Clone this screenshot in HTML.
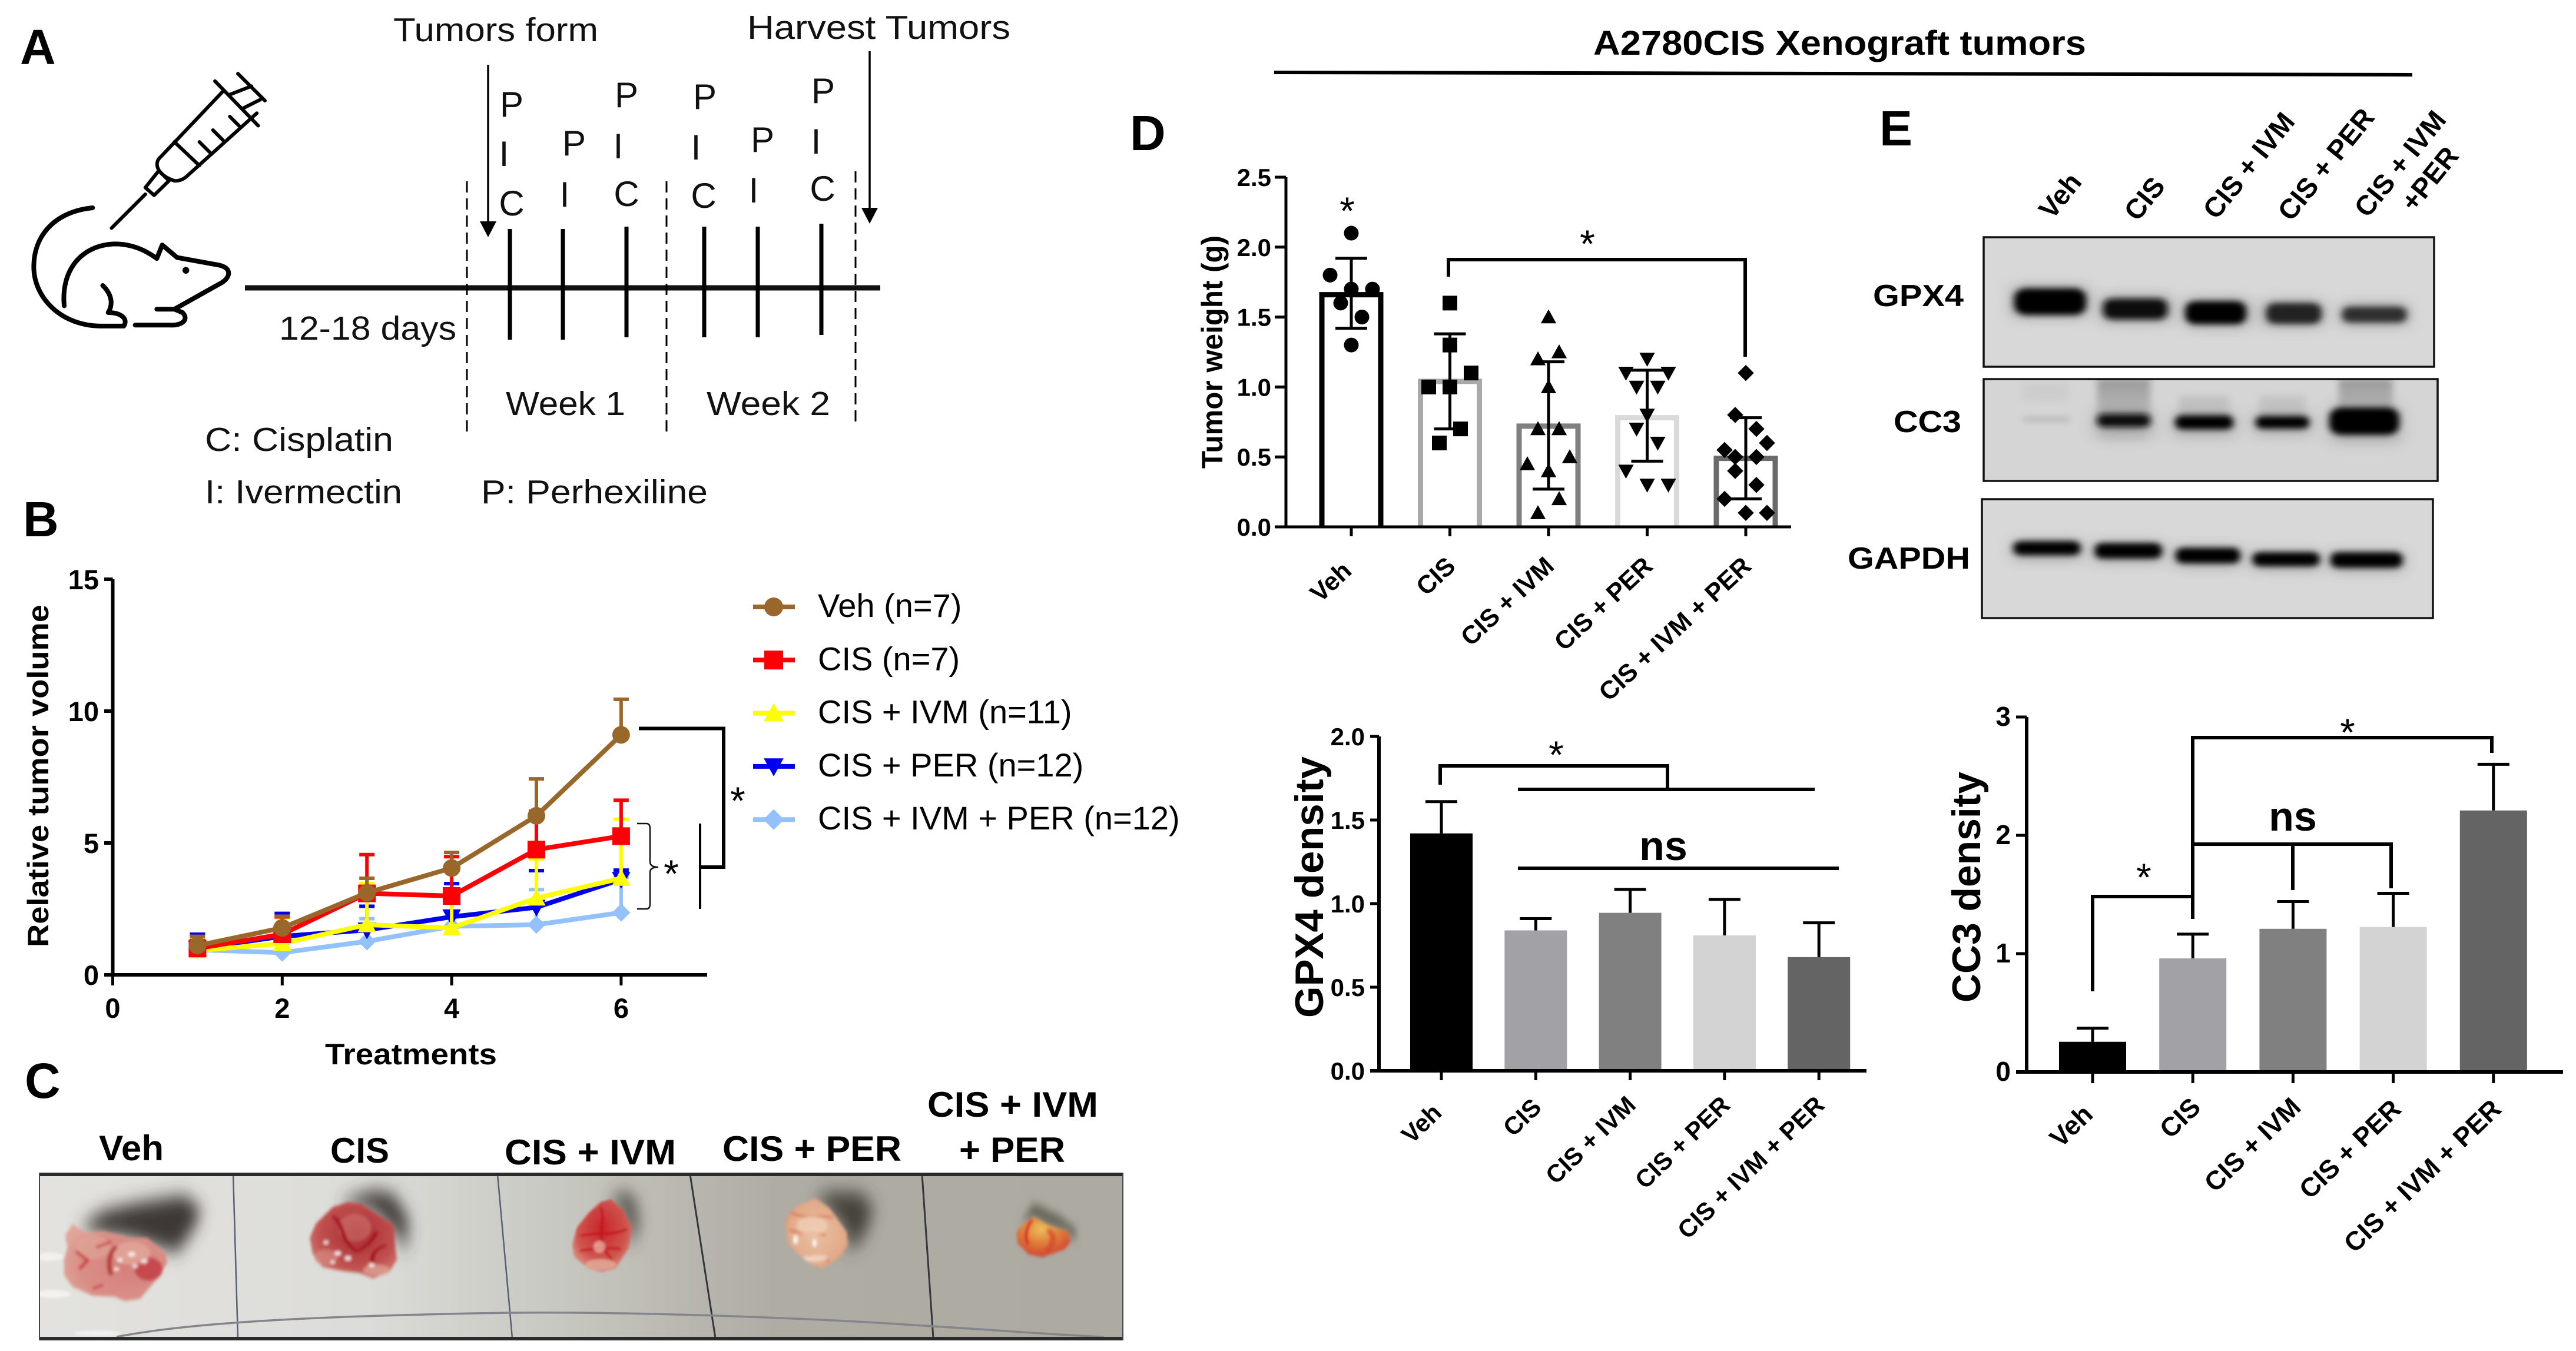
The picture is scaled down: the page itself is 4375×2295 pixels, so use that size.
<!DOCTYPE html>
<html lang="en">
<head>
<meta charset="utf-8">
<title>A2780CIS Xenograft tumors figure</title>
<style>
html,body{margin:0;padding:0;background:#fff;}
svg{display:block;}
text{font-family:"Liberation Sans",sans-serif;fill:#000;}
.b{font-weight:bold;}
.nss{vector-effect:non-scaling-stroke;fill:none;stroke:#000;stroke-width:8;stroke-linecap:round;stroke-linejoin:round;}
.a57{font-size:57px;fill:#111;}
.pic{font-size:60px;fill:#111;text-anchor:middle;}
.panel{font-size:84px;font-weight:bold;}
.hd{font-size:58px;font-weight:bold;}
</style>
</head>
<body>
<svg id="fig" xmlns="http://www.w3.org/2000/svg" width="4375" height="2295" viewBox="0 0 4375 2295">
<defs>
<filter id="b2" x="-30%" y="-30%" width="160%" height="160%"><feGaussianBlur stdDeviation="2"/></filter>
<filter id="b3" x="-30%" y="-30%" width="160%" height="160%"><feGaussianBlur stdDeviation="4 9"/></filter>
<filter id="b8" x="-80%" y="-80%" width="260%" height="260%"><feGaussianBlur stdDeviation="10 24"/></filter>
<filter id="b24" x="-80%" y="-80%" width="260%" height="260%"><feGaussianBlur stdDeviation="22 46"/></filter>
<filter id="blot" x="-30%" y="-100%" width="160%" height="300%"><feGaussianBlur stdDeviation="8"/></filter>
<filter id="halo" x="-40%" y="-200%" width="180%" height="500%"><feGaussianBlur stdDeviation="18"/></filter>
<linearGradient id="paper" x1="0" y1="0" x2="1" y2="0">
<stop offset="0" stop-color="#e3e2de"/><stop offset="0.3" stop-color="#dcdcd8"/><stop offset="0.47" stop-color="#c9c9c3"/><stop offset="0.68" stop-color="#aeaca3"/><stop offset="1" stop-color="#adaaa1"/>
</linearGradient>
<linearGradient id="smear" x1="0" y1="0" x2="0" y2="1"><stop offset="0" stop-color="#9a9a9a"/><stop offset="1" stop-color="#bdbdbd"/></linearGradient>
<radialGradient id="t1" cx="0.6" cy="0.55" r="0.65"><stop offset="0" stop-color="#d67f7c"/><stop offset="0.7" stop-color="#d98f86"/><stop offset="1" stop-color="#e0a598"/></radialGradient>
<radialGradient id="t2" cx="0.55" cy="0.42" r="0.62"><stop offset="0" stop-color="#a92a33"/><stop offset="0.7" stop-color="#c0504f"/><stop offset="1" stop-color="#cf7a72"/></radialGradient>
<radialGradient id="t3" cx="0.5" cy="0.4" r="0.62"><stop offset="0" stop-color="#c8242a"/><stop offset="0.7" stop-color="#cf5750"/><stop offset="1" stop-color="#dc9080"/></radialGradient>
<radialGradient id="t4" cx="0.5" cy="0.5" r="0.6"><stop offset="0" stop-color="#e8c0a2"/><stop offset="0.75" stop-color="#e2aa88"/><stop offset="1" stop-color="#d88a68"/></radialGradient>
<radialGradient id="t5" cx="0.45" cy="0.3" r="0.75"><stop offset="0" stop-color="#eebf5c"/><stop offset="0.45" stop-color="#e0803a"/><stop offset="1" stop-color="#cc3a30"/></radialGradient>
<clipPath id="cc3clip"><rect x="3369" y="644" width="771" height="173"/></clipPath>
<clipPath id="photoclip"><rect x="67" y="1995" width="1841" height="279"/></clipPath>
</defs>
<rect width="4375" height="2295" fill="#fff"/>

<!-- Panel A -->
<g>
<text class="panel" x="34" y="109">A</text>
<g transform="scale(1.148,0.574)">
<path class="nss" d="M137,615 C85,625 50,690 50,790 C50,880 90,965 150,965 L183,965 C190,945 180,925 160,925 C168,900 165,870 152,845"/>
<path class="nss" d="M95,905 C90,800 120,725 170,722 C195,722 215,740 232,765 L240,725 L262,762 L325,785 C345,795 340,825 325,840 L258,915 L270,925 C280,945 270,965 250,962 L200,962"/>
<path class="nss" d="M232,915 L258,915"/>
<ellipse cx="275" cy="800" rx="5" ry="10" fill="#000"/>
</g>
<g transform="scale(1.148,0.574)">
<path class="nss" style="stroke-width:6" d="M165,675 L215,575 M215,555 L228,578 L250,535 L235,505 Z M235,470 L330,270 M280,515 L380,335 M235,470 C228,490 235,520 258,535 C268,537 275,525 280,515 M258,420 L295,490 M318,240 L382,372 M352,218 L392,298 M340,280 L372,255 M360,320 L385,295 M295,420 L310,450 M315,385 L330,415 M340,345 L355,375"/>
</g>
<text class="a57" x="668" y="70" textLength="348" lengthAdjust="spacingAndGlyphs">Tumors form</text>
<text class="a57" x="1269" y="66" textLength="447" lengthAdjust="spacingAndGlyphs">Harvest  Tumors</text>
<path d="M829,110 V380" stroke="#000" stroke-width="3.5" fill="none"/>
<path d="M815,376 H843 L829,403 Z" fill="#000"/>
<path d="M1477,87 V356" stroke="#000" stroke-width="3.5" fill="none"/>
<path d="M1463,353 H1491 L1477,380 Z" fill="#000"/>
<g>
<text class="pic" x="869" y="198">P</text><text class="pic" x="856" y="282">I</text><text class="pic" x="869" y="366">C</text>
<text class="pic" x="975" y="264">P</text><text class="pic" x="959" y="351">I</text>
<text class="pic" x="1064" y="182">P</text><text class="pic" x="1050" y="269">I</text><text class="pic" x="1064" y="350">C</text>
<text class="pic" x="1197" y="185">P</text><text class="pic" x="1182" y="271">I</text><text class="pic" x="1195" y="353">C</text>
<text class="pic" x="1295" y="258">P</text><text class="pic" x="1280" y="344">I</text>
<text class="pic" x="1398" y="175">P</text><text class="pic" x="1386" y="261">I</text><text class="pic" x="1397" y="341">C</text>
</g>
<path d="M416,489 H1495" stroke="#111" stroke-width="9" fill="none"/>
<path d="M866,389 V577 M956,389 V577 M1064,385 V573 M1196,385 V573 M1287,385 V573 M1395,380 V569" stroke="#000" stroke-width="7" fill="none"/>
<path d="M793,308 V740 M1132,308 V740 M1453,291 V722" stroke="#000" stroke-width="3" stroke-dasharray="19 10" fill="none"/>
<text class="a57" x="474" y="577" textLength="301" lengthAdjust="spacingAndGlyphs">12-18 days</text>
<text class="a57" x="859" y="705" textLength="203" lengthAdjust="spacingAndGlyphs">Week 1</text>
<text class="a57" x="1200" y="705" textLength="210" lengthAdjust="spacingAndGlyphs">Week 2</text>
<text class="a57" x="348" y="766" textLength="320" lengthAdjust="spacingAndGlyphs">C: Cisplatin</text>
<text class="a57" x="348" y="855" textLength="335" lengthAdjust="spacingAndGlyphs">I: Ivermectin</text>
<text class="a57" x="817" y="855" textLength="385" lengthAdjust="spacingAndGlyphs">P: Perhexiline</text>
</g>

<text class="panel" x="39" y="911">B</text>
<g id="panelB"></g>

<!-- Panel C -->
<g>
<text class="panel" x="42" y="1865">C</text>
<text class="b" font-size="60" x="168" y="1971" textLength="110" lengthAdjust="spacingAndGlyphs">Veh</text>
<text class="b" font-size="60" x="561" y="1975" textLength="100" lengthAdjust="spacingAndGlyphs">CIS</text>
<text class="b" font-size="60" x="857" y="1978" textLength="291" lengthAdjust="spacingAndGlyphs">CIS + IVM</text>
<text class="b" font-size="60" x="1227" y="1972" textLength="304" lengthAdjust="spacingAndGlyphs">CIS + PER</text>
<text class="b" font-size="60" x="1575" y="1897" textLength="290" lengthAdjust="spacingAndGlyphs">CIS + IVM</text>
<text class="b" font-size="60" x="1629" y="1974" textLength="180" lengthAdjust="spacingAndGlyphs">+ PER</text>
<rect x="67" y="1992" width="1841" height="285" fill="url(#paper)"/>
<g clip-path="url(#photoclip)">
<g filter="url(#b2)" fill="#f6f5f2" opacity="0.8">
<ellipse cx="85" cy="2135" rx="24" ry="7"/>
<ellipse cx="90" cy="2198" rx="30" ry="7"/>
<ellipse cx="165" cy="2265" rx="40" ry="5"/>
</g>
<path d="M396,1995 L404,2273 M845,1995 L870,2273" stroke="#566074" stroke-width="2.5" fill="none"/>
<path d="M1172,1995 L1215,2273 M1566,1995 L1585,2273" stroke="#33363c" stroke-width="3" fill="none"/>
<path d="M198,2271 C330,2245 560,2235 864,2230 C1100,2228 1400,2240 1583,2253 C1700,2260 1800,2268 1875,2271" stroke="#84858c" stroke-width="3.5" fill="none"/>

<g transform="translate(60,1985) scale(0.574,0.335)">
<g filter="url(#b24)" fill="#3c3835">
<path d="M130,300 L200,215 L300,175 L440,135 L490,200 L475,290 L420,430 L370,400 L280,350 L200,330 Z"/>
<path d="M900,170 L1000,110 L1060,130 L1105,260 L1095,430 L1065,320 L1000,210 L930,190 Z"/>
</g>
<g filter="url(#b3)">
<path d="M110,282 L150,325 L200,318 L285,350 L330,352 L385,425 L390,480 L355,570 L310,660 L265,672 L235,650 L170,645 L110,600 L85,540 L85,460 L95,400 L88,340 Z" fill="url(#t1)"/>
<ellipse cx="335" cy="510" rx="42" ry="60" fill="#c23a44" opacity="0.8"/>
<ellipse cx="285" cy="430" rx="55" ry="58" fill="#e4aca0" opacity="0.7"/>
<ellipse cx="170" cy="400" rx="50" ry="60" fill="#e0a899" opacity="0.6"/>
<path d="M240,395 C215,430 215,500 225,540" stroke="#b5403e" stroke-width="14" fill="none"/>
<path d="M120,420 L155,465 L130,510 M200,590 L170,610 M180,400 L225,370" stroke="#c9222f" stroke-width="10" fill="none"/>
<g fill="#fff" opacity="0.85"><circle cx="285" cy="435" r="11"/><circle cx="322" cy="470" r="10"/><circle cx="250" cy="465" r="9"/><circle cx="240" cy="510" r="8"/><circle cx="295" cy="495" r="8"/></g>
</g>
<g filter="url(#b3)">
<path d="M925,170 L965,180 L1015,235 L1060,285 L1065,400 L1070,460 L1050,520 L1000,558 L960,530 L910,520 L850,500 L820,430 L812,350 L830,280 L880,195 Z" fill="url(#t2)"/>
<ellipse cx="945" cy="300" rx="48" ry="70" fill="#d68b80" opacity="0.45"/>
<path d="M880,240 C920,300 900,360 950,420 C980,400 1000,360 1010,320 M1000,480 C990,440 1010,400 1040,390" stroke="#a50c1c" stroke-width="12" fill="none"/>
<ellipse cx="1010" cy="515" rx="40" ry="28" fill="#dca090" opacity="0.8"/>
<ellipse cx="860" cy="450" rx="35" ry="40" fill="#d68a80" opacity="0.7"/>
<g fill="#fff" opacity="0.9"><circle cx="895" cy="430" r="10"/><circle cx="925" cy="455" r="10"/><circle cx="860" cy="375" r="8"/><circle cx="995" cy="490" r="9"/><circle cx="880" cy="475" r="7"/></g>
</g>
</g>

<g transform="translate(1000,1985) scale(0.5835,0.335)">
<g filter="url(#b24)" fill="#45413b">
<path d="M60,165 L95,120 L130,140 L145,280 L120,400 L100,200 Z"/>
<path d="M660,170 L690,120 L790,120 L830,200 L800,350 L755,420 L750,320 L700,200 Z"/>
</g>
<g filter="url(#b8)" fill="#686359">
<path d="M1295,175 L1370,240 L1420,310 L1410,375 L1395,320 L1340,290 L1295,245 L1258,275 Z"/>
</g>
<g filter="url(#b3)">
<path d="M660,150 L700,200 L750,320 L755,390 L730,450 L680,508 L640,480 L600,420 L578,370 L572,260 L600,195 Z" fill="url(#t4)"/>
<path d="M590,225 C630,260 680,230 710,250 M585,310 C620,340 660,320 690,340 M640,440 L700,470" stroke="#d9634e" stroke-width="9" fill="none"/>
<ellipse cx="650" cy="290" rx="45" ry="50" fill="#f0d2b8" opacity="0.7"/>
<ellipse cx="660" cy="455" rx="36" ry="16" fill="#f3dacc" opacity="0.85"/>
<g fill="#fff" opacity="0.9"><rect x="596" y="340" width="12" height="40"/><rect x="652" y="360" width="10" height="35"/></g>
</g>
<g filter="url(#b3)">
<path d="M1295,245 L1340,290 L1395,320 L1403,370 L1385,410 L1320,450 L1280,435 L1248,380 L1245,320 L1265,280 Z" fill="url(#t5)"/>
<path d="M1290,260 C1275,300 1265,345 1280,385" stroke="#d42a2a" stroke-width="10" fill="none"/>
<path d="M1335,310 C1365,345 1345,400 1330,420" stroke="#d4452c" stroke-width="18" fill="none" opacity="0.7"/>
</g>
</g>

<g filter="url(#b2)">
<path d="M1038,2037 L1060,2058 L1073,2085 L1068,2120 L1045,2155 L1023,2161 L1000,2155 L975,2135 L972,2115 L980,2085 L1000,2060 L1020,2042 Z" fill="url(#t3)"/>
<path d="M1020,2050 C1032,2080 1005,2105 1040,2140 M985,2100 C1010,2092 1040,2100 1065,2088 M985,2125 C1005,2122 1030,2118 1055,2122" stroke="#c40f1c" stroke-width="4" fill="none"/>
<ellipse cx="1020" cy="2148" rx="26" ry="9" fill="#e0a896" opacity="0.85"/>
<ellipse cx="1018" cy="2118" rx="10" ry="10" fill="#ecc0b0" opacity="0.7"/>
</g>
</g>
<path d="M67,1995 H1908 M67,2274 H1908" stroke="#2b2b2b" stroke-width="6" fill="none"/>
<path d="M67,1992 V2277 M1907,1992 V2277" stroke="#444" stroke-width="2" fill="none"/>
</g>

<!-- Header -->
<text class="hd" x="2706" y="93" textLength="837" lengthAdjust="spacingAndGlyphs">A2780CIS Xenograft tumors</text>
<path d="M2164,123 L4097,127" stroke="#000" stroke-width="6" fill="none"/>

<text class="panel" x="1919" y="255">D</text>
<g id="panelD"></g>

<!-- Panel E blots -->
<g>
<text class="panel" x="3192" y="247">E</text>
<text class="b" font-size="47" transform="translate(3485,375) rotate(-51)">Veh</text>
<text class="b" font-size="47" transform="translate(3630,378) rotate(-51)">CIS</text>
<text class="b" font-size="47" transform="translate(3764,375) rotate(-51)">CIS + IVM</text>
<text class="b" font-size="47" transform="translate(3891,378) rotate(-51)">CIS + PER</text>
<text class="b" font-size="47" transform="translate(4021,372) rotate(-51)">CIS + IVM</text>
<text class="b" font-size="47" transform="translate(4100,362) rotate(-51)">+PER</text>
<text class="b" font-size="52" x="3181" y="520" textLength="154" lengthAdjust="spacingAndGlyphs">GPX4</text>
<text class="b" font-size="52" x="3216" y="734" textLength="115" lengthAdjust="spacingAndGlyphs">CC3</text>
<text class="b" font-size="52" x="3138" y="966" textLength="208" lengthAdjust="spacingAndGlyphs">GAPDH</text>
<rect x="3369" y="403" width="765" height="220" fill="#d8d8d8"/>
<rect x="3369" y="644" width="771" height="173" fill="#d5d5d5"/>
<rect x="3366" y="848" width="766" height="202" fill="#d8d8d8"/>
<g>
<g transform="translate(3150,100) scale(0.781,0.625)">
<g filter="url(#halo)" fill="#666" opacity="0.55">
<rect x="345" y="620" width="160" height="80"/><rect x="540" y="645" width="145" height="70"/><rect x="720" y="655" width="135" height="72"/><rect x="890" y="660" width="125" height="65"/><rect x="1060" y="668" width="140" height="55"/>
</g>
<g filter="url(#blot)">
<rect x="347" y="624" width="156" height="72" rx="26" fill="#000"/>
<rect x="540" y="652" width="140" height="56" rx="20" fill="#111"/>
<rect x="719" y="659" width="132" height="62" rx="22" fill="#000"/>
<rect x="895" y="664" width="120" height="56" rx="20" fill="#222"/>
<rect x="1060" y="674" width="140" height="42" rx="16" fill="#2e2e2e"/>
</g>
<g filter="url(#halo)" fill="#666" opacity="0.45">
<rect x="345" y="1310" width="148" height="50"/><rect x="522" y="1316" width="146" height="52"/><rect x="698" y="1328" width="140" height="52"/><rect x="865" y="1340" width="146" height="48"/><rect x="1035" y="1340" width="156" height="52"/>
</g>
<g filter="url(#blot)" fill="#000">
<rect x="345" y="1311" width="146" height="38" rx="16"/>
<rect x="522" y="1316" width="146" height="42" rx="16"/>
<rect x="698" y="1329" width="140" height="42" rx="16"/>
<rect x="865" y="1341" width="146" height="38" rx="16"/>
<rect x="1035" y="1341" width="156" height="42" rx="16"/>
</g>
</g>
</g>
<g clip-path="url(#cc3clip)">
<g transform="translate(3150,100) scale(0.781,0.625)">
<g filter="url(#blot)">
<rect x="527" y="870" width="116" height="100" fill="url(#smear)"/>
<rect x="1052" y="870" width="118" height="100" fill="url(#smear)"/>
<rect x="705" y="915" width="110" height="60" fill="#c2c2c2"/>
<rect x="880" y="915" width="100" height="60" fill="#c4c4c4"/>
<rect x="365" y="880" width="100" height="50" fill="#cdcdcd"/>
</g>
<g filter="url(#halo)" fill="#666" opacity="0.4">
<rect x="525" y="955" width="120" height="75"/><rect x="695" y="965" width="130" height="60"/><rect x="870" y="965" width="122" height="55"/><rect x="1035" y="945" width="150" height="95"/>
</g>
<g filter="url(#blot)">
<rect x="365" y="972" width="104" height="16" rx="8" fill="#bbb"/>
<rect x="527" y="965" width="116" height="36" rx="14" fill="#0d0d0d"/>
<rect x="697" y="969" width="126" height="38" rx="15" fill="#000"/>
<rect x="872" y="971" width="116" height="34" rx="14" fill="#000"/>
<rect x="1032" y="948" width="152" height="74" rx="26" fill="#000"/>
</g>
</g>
</g>
<rect x="3369" y="403" width="765" height="220" fill="none" stroke="#111" stroke-width="3.5"/>
<rect x="3369" y="644" width="771" height="173" fill="none" stroke="#111" stroke-width="3.5"/>
<rect x="3366" y="848" width="766" height="202" fill="none" stroke="#111" stroke-width="3.5"/>
</g>

<g id="panelGpx"></g>
<g id="panelCc3"></g>
</svg>

<script>
/* ---- Panel B data ---- */
var treatmentX = [1, 2, 3, 4, 5, 6];
var volumeXTicks = [0, 2, 4, 6];
var volumeYTicks = [0, 5, 10, 15];
var vehVolume = [1.11, 1.78, 3.11, 4.05, 6.03, 9.1];
var vehVolumeTop = [1.46, 2.22, 3.66, 4.64, 7.43, 10.45];
var cisVolume = [1.0, 1.54, 3.09, 2.99, 4.75, 5.26];
var cisVolumeTop = [1.3, 2.2, 4.56, 4.48, 6.2, 6.62];
var ivmVolume = [0.92, 1.19, 1.9, 1.78, 2.91, 3.66];
var ivmVolumeTop = [1.35, 2.17, 3.46, 3.0, 4.4, 5.9];
var perVolume = [1.0, 1.46, 1.7, 2.2, 2.56, 3.62];
var perVolumeTop = [1.54, 2.33, 2.6, 3.46, 3.95, 3.97];
var comboVolume = [0.95, 0.84, 1.27, 1.84, 1.9, 2.36];
var comboVolumeTop = [1.2, 1.2, 2.13, 2.4, 3.23, 3.7];
var legendLabels = ['Veh (n=7)', 'CIS (n=7)', 'CIS + IVM (n=11)', 'CIS + PER (n=12)', 'CIS + IVM + PER (n=12)'];

/* ---- Shared bar categories ---- */
var groupLabels = ['Veh', 'CIS', 'CIS + IVM', 'CIS + PER', 'CIS + IVM + PER'];

/* ---- Panel D data ---- */
var weightYTicks = [0, 0.5, 1, 1.5, 2, 2.5];
var weightMeans = [1.66, 1.04, 0.72, 0.78, 0.49];
var weightErrHigh = [1.92, 1.38, 1.18, 1.12, 0.78];
var weightErrLow = [1.42, 0.70, 0.27, 0.47, 0.20];
var weightVeh = [2.1, 1.8, 1.7, 1.7, 1.6, 1.5, 1.3];
var weightCis = [1.6, 1.3, 1.1, 1.0, 1.0, 0.7, 0.6];
var weightIvm = [1.5, 1.25, 1.2, 1.0, 0.7, 0.7, 0.5, 0.45, 0.4, 0.2, 0.1];
var weightPer = [1.2, 1.1, 1.1, 1.0, 1.0, 0.8, 0.7, 0.6, 0.4, 0.3, 0.3];
var weightCombo = [1.1, 0.8, 0.7, 0.6, 0.55, 0.5, 0.5, 0.4, 0.3, 0.2, 0.1, 0.1];
var swarmVeh = [0, -2, 0, 2, -1, 1, 0];
var swarmCis = [0, 0, 2, -2, 0, 1, -1];
var swarmIvm = [0, 1, -1, 0, -1, 1, 2, -2, 0, 1, -1];
var swarmPer = [0, -2, 2, -1, 1, 0, -1, 1, -2, 0, 2];
var swarmCombo = [0, -1, 1, 2, -2, -1, 1, -1, 1, -2, 0, 2];

/* ---- GPX4 density data ---- */
var gpxYTicks = [0, 0.5, 1, 1.5, 2];
var gpxMeans = [1.42, 0.84, 0.945, 0.81, 0.68];
var gpxErrHigh = [1.61, 0.91, 1.085, 1.025, 0.885];

/* ---- CC3 density data ---- */
var cc3YTicks = [0, 1, 2, 3];
var cc3Means = [0.255, 0.96, 1.21, 1.225, 2.21];
var cc3ErrHigh = [0.37, 1.165, 1.44, 1.51, 2.6];

var NS = 'http://www.w3.org/2000/svg';
function mk(tag, parent, attrs) {
  var el = document.createElementNS(NS, tag);
  for (var k in attrs) { el.setAttribute(k, attrs[k]); }
  parent.appendChild(el);
  return el;
}
function markerPath(kind, cx, cy, s) {
  if (kind === 'square') return 'M' + (cx - s) + ',' + (cy - s) + 'h' + (2 * s) + 'v' + (2 * s) + 'h' + (-2 * s) + 'Z';
  if (kind === 'up') return 'M' + cx + ',' + (cy - s * 1.05) + 'L' + (cx + s * 1.05) + ',' + (cy + s * 0.85) + 'H' + (cx - s * 1.05) + 'Z';
  if (kind === 'down') return 'M' + cx + ',' + (cy + s * 1.05) + 'L' + (cx + s * 1.05) + ',' + (cy - s * 0.85) + 'H' + (cx - s * 1.05) + 'Z';
  if (kind === 'diamond') return 'M' + cx + ',' + (cy - s * 1.1) + 'L' + (cx + s * 1.1) + ',' + cy + 'L' + cx + ',' + (cy + s * 1.1) + 'L' + (cx - s * 1.1) + ',' + cy + 'Z';
  var r = s;
  return 'M' + (cx - r) + ',' + cy + 'a' + r + ',' + r + ' 0 1,0 ' + (2 * r) + ',0a' + r + ',' + r + ' 0 1,0 ' + (-2 * r) + ',0Z';
}
function star(parent, cx, cy) {
  var el = mk('text', parent, { x: cx, y: cy + 33, 'font-size': 66, 'text-anchor': 'middle' });
  
  
  el.textContent = '*';
  return el;
}
function bracket(parent, d) {
  var el = mk('path', parent, { d: d, fill: 'none', stroke: '#000', 'stroke-width': 6 });
  
  
  return el;
}
function nsLabel(parent, cx, y) {
  var el = mk('text', parent, { x: cx, y: y, 'font-size': 70, 'font-weight': 'bold', 'text-anchor': 'middle' });
  
  
  el.textContent = 'ns';
  return el;
}

/* ---- Panel B ---- */
(function () {
  var g = document.getElementById('panelB');
  function px(v) { return 191.5 + (v * 143.9); }
  function py(v) { return 1656 - (v * 44.8); }
  var axis = mk('path', g, { d: 'M' + px(0) + ',' + py(15) + 'V' + py(0) + ' M177,' + py(0) + 'H1201', fill: 'none', stroke: '#000', 'stroke-width': 6 });
  
  
  volumeYTicks.forEach(function (t) {
    var tick = mk('path', g, { d: 'M177,' + py(t) + 'H' + px(0), stroke: '#000', 'stroke-width': 6 });
    
    
    var lab = mk('text', g, { x: 168, y: py(t) + 17, 'font-size': 47, 'font-weight': 'bold', 'text-anchor': 'end' });
    
    
    lab.textContent = t;
  });
  volumeXTicks.forEach(function (t) {
    var tick = mk('path', g, { d: 'M' + px(t) + ',' + py(0) + 'V1674', stroke: '#000', 'stroke-width': 5 });
    
    
    var lab = mk('text', g, { x: px(t), y: 1729, 'font-size': 47, 'font-weight': 'bold', 'text-anchor': 'middle' });
    
    
    lab.textContent = t;
  });
  var yt = mk('text', g, { transform: 'translate(82,1609) rotate(-90)', 'font-size': 50, 'font-weight': 'bold', textLength: 582, lengthAdjust: 'spacingAndGlyphs' });
  
  
  yt.textContent = 'Relative tumor volume';
  var xt = mk('text', g, { x: 552, y: 1808, 'font-size': 50, 'font-weight': 'bold', textLength: 292, lengthAdjust: 'spacingAndGlyphs' });
  
  
  xt.textContent = 'Treatments';

  var series = [
    { n: comboVolume, t: comboVolumeTop, c: '#92c1fb', m: 'diamond', s: 14 },
    { n: perVolume, t: perVolumeTop, c: '#0000f0', m: 'down', s: 15 },
    { n: ivmVolume, t: ivmVolumeTop, c: '#fdfc00', m: 'up', s: 15 },
    { n: cisVolume, t: cisVolumeTop, c: '#fb0007', m: 'square', s: 15 },
    { n: vehVolume, t: vehVolumeTop, c: '#99672a', m: 'circle', s: 15 }
  ];
  series.forEach(function (sr) {
    var sg = mk('g', g, {});
    
    
    treatmentX.forEach(function (xv, i) {
      var x = px(xv);
      var err = mk('path', sg, { d: 'M' + x + ',' + py(sr.n[i]) + 'V' + py(sr.t[i]) + 'M' + (x - 13) + ',' + py(sr.t[i]) + 'h26', fill: 'none', stroke: sr.c, 'stroke-width': 6 });
      
      
    });
    var d = treatmentX.map(function (xv, i) { return (i ? 'L' : 'M') + px(xv) + ',' + py(sr.n[i]); }).join('');
    var line = mk('path', sg, { d: d, fill: 'none', stroke: sr.c, 'stroke-width': 8, 'stroke-linejoin': 'round' });
    
    
    treatmentX.forEach(function (xv, i) {
      var m = mk('path', sg, { d: markerPath(sr.m, px(xv), py(sr.n[i]), sr.s), fill: sr.c });
      
      
    });
  });

  var legendOrder = [4, 3, 2, 1, 0];
  legendLabels.forEach(function (label, i) {
    var sr = series[legendOrder[i]];
    var ly = 1031 + i * 90.3;
    var lg = mk('g', g, {});
    
    
    mk('path', lg, { d: 'M1279,' + ly + 'H1350', stroke: sr.c, 'stroke-width': 8, fill: 'none' });
    mk('path', lg, { d: markerPath(sr.m, 1314, ly, 16), fill: sr.c });
    var t = mk('text', lg, { x: 1389, y: ly + 17, 'font-size': 56, fill: '#111' });
    t.textContent = label;
  });

  bracket(g, 'M1085,1237.5H1229V1473H1189');
  bracket(g, 'M1189,1399V1544').setAttribute('stroke-width', 4);
  var curly = mk('path', g, { d: 'M1082,1399H1098Q1104,1399 1104,1408V1464Q1104,1473 1118,1473Q1104,1473 1104,1482V1535Q1104,1544 1098,1544H1082', fill: 'none', stroke: '#111', 'stroke-width': 2.5 });
  
  
  star(g, 1140, 1474);
  star(g, 1253, 1350);
})();

/* ---- Panel D ---- */
(function () {
  var g = document.getElementById('panelD');
  var colors = ['#000000', '#a9a9a9', '#808080', '#d9d9d9', '#6a6a6a'];
  var shapes = ['circle', 'square', 'up', 'down', 'diamond'];
  var pointSets = [weightVeh, weightCis, weightIvm, weightPer, weightCombo];
  var slotSets = [swarmVeh, swarmCis, swarmIvm, swarmPer, swarmCombo];
  function cx(i) { return 2295 + i * 167.5; }
  function py(v) { return 895 - v * 237.6; }
  groupLabels.forEach(function (label, i) {
    var x = cx(i), hw = 50;
    var bar = mk('path', g, { d: 'M' + (x - hw) + ',' + py(0) + 'V' + py(weightMeans[i]) + 'H' + (x + hw) + 'V' + py(0), fill: 'none', stroke: colors[i], 'stroke-width': 9 });
    
    
    var err = mk('path', g, { d: 'M' + x + ',' + py(weightErrHigh[i]) + 'V' + py(weightErrLow[i]) + 'M' + (x - 27) + ',' + py(weightErrHigh[i]) + 'h54M' + (x - 27) + ',' + py(weightErrLow[i]) + 'h54', fill: 'none', stroke: '#000', 'stroke-width': 5 });
    
    
    pointSets[i].forEach(function (v, j) {
      var p = mk('path', g, { d: markerPath(shapes[i], x + slotSets[i][j] * 18, py(v), 12.5), fill: '#000' });
      
      
    });
    var tick = mk('path', g, { d: 'M' + x + ',' + py(0) + 'V911', stroke: '#000', 'stroke-width': 5 });
    
    
    var lab = mk('text', g, { transform: 'translate(' + (x + (i ? 12 : 3)) + ',' + (i ? 965 : 973) + ') rotate(-43)', 'font-size': 43, 'font-weight': 'bold', 'text-anchor': 'end' });
    
    
    lab.textContent = label;
  });
  var axis = mk('path', g, { d: 'M2184,' + py(2.5) + 'V' + py(0) + 'M2165,' + py(0) + 'H3042', fill: 'none', stroke: '#000', 'stroke-width': 5 });
  
  
  weightYTicks.forEach(function (t) {
    var tick = mk('path', g, { d: 'M2165,' + py(t) + 'H2184', stroke: '#000', 'stroke-width': 5 });
    
    
    var lab = mk('text', g, { x: 2159, y: py(t) + 15, 'font-size': 42, 'font-weight': 'bold', 'text-anchor': 'end' });
    
    
    lab.textContent = t.toFixed(1);
  });
  var yt = mk('text', g, { transform: 'translate(2076,796) rotate(-90)', 'font-size': 50, 'font-weight': 'bold', textLength: 396, lengthAdjust: 'spacingAndGlyphs' });
  
  
  yt.textContent = 'Tumor weight (g)';
  star(g, 2288, 348);
  star(g, 2696, 404);
  bracket(g, 'M2460,470V441H2964V606');
})();

/* ---- Density bar charts ---- */
function densityChart(host, cfg, means, tops, ticks) {
  var colors = ['#000000', '#a2a2a6', '#808080', '#d3d3d3', '#646464'];
  function cx(i) { return cfg.x0 + i * cfg.step; }
  function py(v) { return cfg.y0 - v * cfg.unit; }
  means.forEach(function (v, i) {
    var x = cx(i);
    var bar = mk('rect', host, { x: x - cfg.hw, y: py(v), width: 2 * cfg.hw, height: cfg.y0 - py(v), fill: colors[i] });
    
    
    var err = mk('path', host, { d: 'M' + x + ',' + py(v) + 'V' + py(tops[i]) + 'M' + (x - 27) + ',' + py(tops[i]) + 'h54', fill: 'none', stroke: '#000', 'stroke-width': 5 });
    
    
    var tick = mk('path', host, { d: 'M' + x + ',' + cfg.y0 + 'V' + cfg.tickEnd, stroke: '#000', 'stroke-width': 5 });
    
    
    var lab = mk('text', host, { transform: 'translate(' + (x + (i ? cfg.lx : 3)) + ',' + cfg.ly[i] + ') rotate(-44)', 'font-size': cfg.lf, 'font-weight': 'bold', 'text-anchor': 'end' });
    
    
    lab.textContent = groupLabels[i];
  });
  var axis = mk('path', host, { d: 'M' + cfg.ax + ',' + py(ticks[ticks.length - 1]) + 'V' + cfg.y0 + 'M' + cfg.tx + ',' + cfg.y0 + 'H' + cfg.xEnd, fill: 'none', stroke: '#000', 'stroke-width': 6 });
  
  
  ticks.forEach(function (t) {
    var tick = mk('path', host, { d: 'M' + cfg.tx + ',' + py(t) + 'H' + cfg.ax, stroke: '#000', 'stroke-width': 5 });
    
    
    var lab = mk('text', host, { x: cfg.tx - 9, y: py(t) + 15, 'font-size': cfg.tf, 'font-weight': 'bold', 'text-anchor': 'end' });
    
    
    lab.textContent = cfg.fmt(t);
  });
  var yt = mk('text', host, { transform: 'translate(' + cfg.tbx + ',' + cfg.tby + ') rotate(-90)', 'font-size': cfg.tsize, 'font-weight': 'bold', textLength: cfg.tlen, lengthAdjust: 'spacingAndGlyphs' });
  
  
  yt.textContent = cfg.title;
}

(function () {
  var g = document.getElementById('panelGpx');
  densityChart(g, { x0: 2448, step: 160.3, hw: 53, y0: 1819, unit: 284, tickEnd: 1835, ax: 2342, tx: 2327, xEnd: 3170, lx: 12, ly: [1893, 1884, 1880, 1880, 1880], lf: 42, tf: 42, tbx: 2247, tby: 1729, tsize: 68, tlen: 444, title: 'GPX4 density', fmt: function (t) { return t.toFixed(1); } }, gpxMeans, gpxErrHigh, gpxYTicks);
  bracket(g, 'M2446,1333V1301H2832V1339');
  bracket(g, 'M2578,1341H3082');
  bracket(g, 'M2578,1475H3123');
  star(g, 2643, 1272);
  nsLabel(g, 2825, 1461);
})();

(function () {
  var g = document.getElementById('panelCc3');
  densityChart(g, { x0: 3554, step: 170.2, hw: 57, y0: 1821, unit: 201, tickEnd: 1840, ax: 3442, tx: 3424, xEnd: 4353, lx: 16, ly: [1896, 1884, 1884, 1887, 1887], lf: 45, tf: 46, tbx: 3363, tby: 1703, tsize: 68, tlen: 392, title: 'CC3 density', fmt: function (t) { return String(t); } }, cc3Means, cc3ErrHigh, cc3YTicks);
  bracket(g, 'M3554,1684V1523H3724');
  bracket(g, 'M3724,1561V1253H4232V1279');
  bracket(g, 'M3724,1434H4061V1509');
  bracket(g, 'M3894,1434V1512');
  star(g, 3641, 1480);
  star(g, 3987, 1234);
  nsLabel(g, 3894, 1411);
})();
</script>
</body>
</html>
